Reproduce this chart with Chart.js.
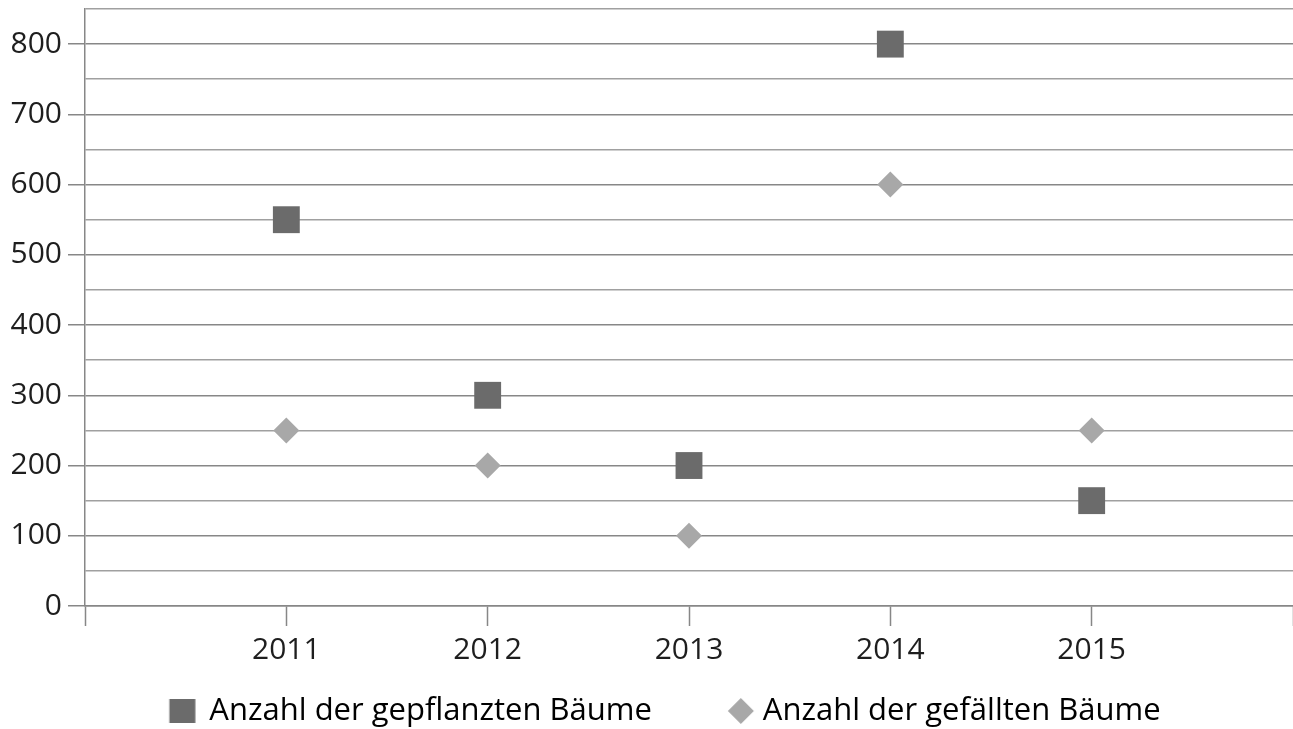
<!DOCTYPE html>
<html>
<head>
<meta charset="utf-8">
<script src="https://cdn.jsdelivr.net/npm/chart.js@4.4.1/dist/chart.umd.min.js"></script>
<style>
  html, body { margin: 0; padding: 0; background: #fff; }
  #wrap { width: 1293px; height: 729px; }
</style>
</head>
<body>
<div id="wrap"><canvas id="chart"></canvas></div>
<script>
// Data
const years = [2011, 2012, 2013, 2014, 2015];
const planted = [550, 300, 200, 800, 150];
const felled = [250, 200, 100, 600, 250];
const seriesNames = ['Anzahl der gepflanzten Bäume', 'Anzahl der gefällten Bäume'];

const colors = {
  planted: '#6b6b6b',
  felled: '#a8a8a8',
  gridMajor: '#878787',
  gridMinor: '#a0a0a0',
  text: '#1e1e1e'
};

const fontFamily = '"Open Sans", "Noto Sans", sans-serif';
const tickFontSize = 30;
const legendFontSize = 31;
const legendBoxWidth = 61.5;
const legendPadding = 34;

// Legend marker images; the marker sits off-centre so it lands just before its text
function legendMarker(kind, gapToText) {
  const offset = legendBoxWidth / 2 + legendFontSize / 2 - gapToText;
  const c = document.createElement('canvas');
  c.width = Math.ceil(2 * (Math.abs(offset) + 14));
  c.height = 26;
  const cx = c.width / 2 + offset;
  const g = c.getContext('2d');
  if (kind === 'square') {
    g.fillStyle = colors.planted;
    g.fillRect(cx - 13, 1, 26, 24);
  } else {
    g.fillStyle = colors.felled;
    g.beginPath();
    g.moveTo(cx, 0);
    g.lineTo(cx + 13, 13);
    g.lineTo(cx, 26);
    g.lineTo(cx - 13, 13);
    g.closePath();
    g.fill();
  }
  return c;
}

const markers = [legendMarker('square', 27), legendMarker('diamond', 22)];

const ctx = document.getElementById('chart').getContext('2d');

const chart = new Chart(ctx, {
  type: 'scatter',
  data: {
    datasets: [{
      label: seriesNames[0],
      data: years.map((y, i) => ({ x: y, y: planted[i] })),
      pointStyle: 'rect',
      pointRadius: 19,
      pointHoverRadius: 19,
      backgroundColor: colors.planted,
      borderColor: colors.planted,
      borderWidth: 0
    }, {
      label: seriesNames[1],
      data: years.map((y, i) => ({ x: y, y: felled[i] })),
      pointStyle: 'rectRot',
      pointRadius: 13,
      pointHoverRadius: 13,
      backgroundColor: colors.felled,
      borderColor: colors.felled,
      borderWidth: 0
    }]
  },
  options: {
    responsive: true,
    maintainAspectRatio: false,
    animation: false,
    layout: {
      autoPadding: false,
      padding: { left: 0, right: 0, top: 9, bottom: -7.5 }
    },
    plugins: {
      tooltip: { enabled: false },
      legend: {
        position: 'bottom',
        labels: {
          usePointStyle: true,
          pointStyleWidth: legendBoxWidth,
          padding: legendPadding,
          color: colors.text,
          font: { family: fontFamily, size: legendFontSize },
          generateLabels: function(chart) {
            return chart.data.datasets.map((ds, i) => ({
              text: ds.label,
              fillStyle: ds.backgroundColor,
              strokeStyle: ds.backgroundColor,
              lineWidth: 0,
              pointStyle: markers[i],
              hidden: false,
              datasetIndex: i
            }));
          }
        }
      }
    },
    scales: {
      x: {
        type: 'linear',
        min: 2010,
        max: 2016,
        afterFit: function(scale) {
          scale.height = 55.5;
          scale.paddingLeft = 0;
          scale.paddingRight = 0;
        },
        ticks: {
          stepSize: 1,
          autoSkip: false,
          maxRotation: 0,
          padding: 6,
          color: colors.text,
          font: { family: fontFamily, size: tickFontSize },
          callback: function(value) {
            return years.includes(value) ? String(value) : '';
          }
        },
        grid: {
          drawOnChartArea: false,
          drawTicks: true,
          tickLength: 20,
          tickColor: colors.gridMajor,
          tickWidth: 1.5
        },
        border: { display: true, color: colors.gridMajor, width: 1.5 }
      },
      y: {
        type: 'linear',
        min: 0,
        max: 850,
        afterFit: function(scale) {
          scale.width = 85;
          scale.paddingTop = 0;
          scale.paddingBottom = 0;
        },
        ticks: {
          stepSize: 50,
          autoSkip: false,
          padding: 6,
          color: colors.text,
          font: { family: fontFamily, size: tickFontSize },
          callback: function(value) {
            return value % 100 === 0 ? String(value) : '';
          }
        },
        grid: {
          drawTicks: true,
          tickLength: 17,
          lineWidth: 1.5,
          tickWidth: 1.5,
          color: function(c) {
            return c.tick && c.tick.value % 100 === 0 ? colors.gridMajor : colors.gridMinor;
          },
          tickColor: function(c) {
            return c.tick && c.tick.value % 100 === 0 ? colors.gridMajor : 'rgba(0,0,0,0)';
          }
        },
        border: { display: true, color: colors.gridMajor, width: 1.5 }
      }
    }
  }
});
</script>
</body>
</html>
